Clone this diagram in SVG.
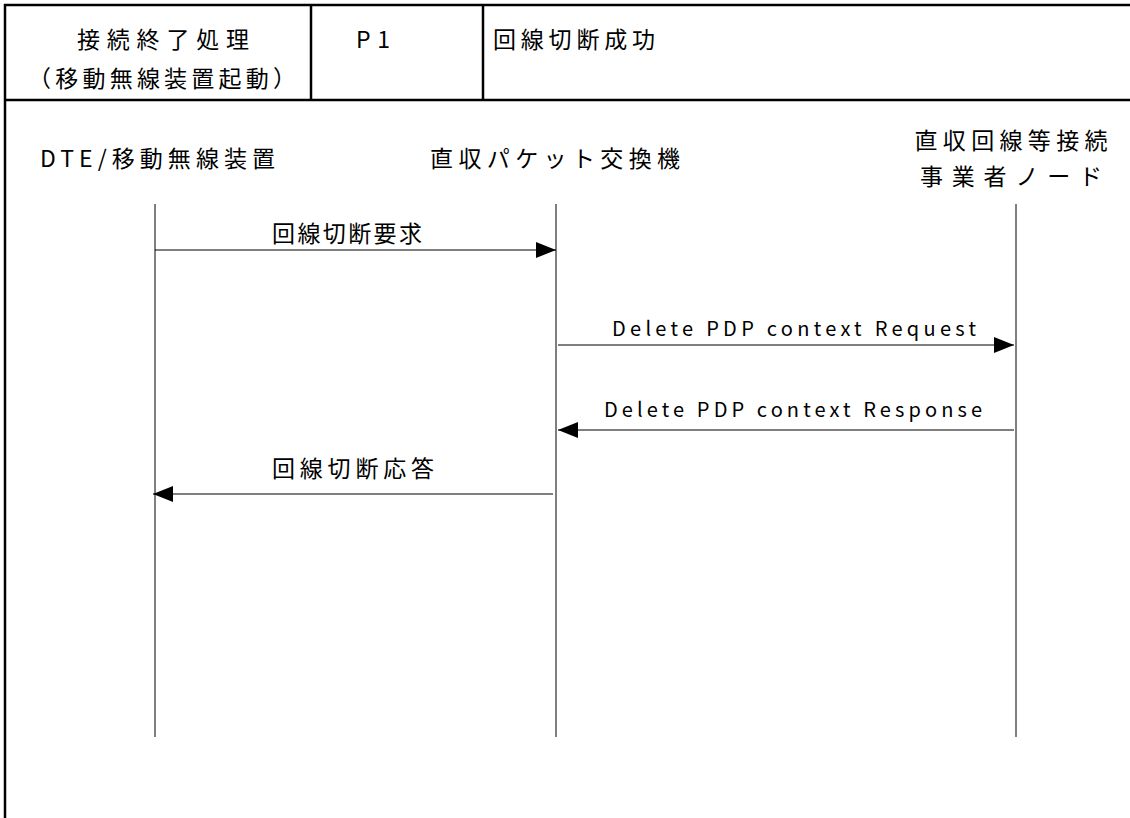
<svg xmlns="http://www.w3.org/2000/svg" width="1130" height="818" viewBox="0 0 1130 818">
<style>
text{font-family:"Noto Sans CJK JP","Noto Sans",sans-serif;font-size:23px;fill:#000}
.lat{font-size:20px}
.frame{stroke:#000;stroke-width:2.5;fill:none}
.life{stroke:#000;stroke-width:1}
.msg{stroke:#000;stroke-width:1.2}
</style>
<defs>
<marker id="ah" viewBox="0 0 20 16" refX="20" refY="8" markerWidth="20" markerHeight="16" markerUnits="userSpaceOnUse" orient="auto">
<path d="M0,0 L20,8 L0,16 Z" fill="#000"/>
</marker>
</defs>
<rect width="1130" height="818" fill="#fff"/>
<g id="frame">
<line class="frame" x1="4" y1="5" x2="1130" y2="5"/>
<line class="frame" x1="4" y1="100" x2="1130" y2="100"/>
<line class="frame" x1="5" y1="4" x2="5" y2="818"/>
<line class="frame" x1="311" y1="5" x2="311" y2="100"/>
<line class="frame" x1="483" y1="5" x2="483" y2="100"/>
<text x="163" y="48" text-anchor="middle" textLength="172" lengthAdjust="spacing">接続終了処理</text>
<text x="162" y="87" text-anchor="middle" textLength="268" lengthAdjust="spacing">（移動無線装置起動）</text>
<text x="373" y="48" text-anchor="middle" textLength="34" lengthAdjust="spacing">P 1</text>
<text x="493" y="48" textLength="162" lengthAdjust="spacing">回線切断成功</text>
</g>
<g id="node-dte">
<text x="40" y="167" textLength="235" lengthAdjust="spacing">DTE/移動無線装置</text>
</g>
<g id="node-switch">
<text x="430" y="167" textLength="250" lengthAdjust="spacing">直収パケット交換機</text>
</g>
<g id="node-carrier">
<text x="1011" y="149" text-anchor="middle" textLength="193" lengthAdjust="spacing">直収回線等接続</text>
<text x="1011" y="185" text-anchor="middle" textLength="182" lengthAdjust="spacing">事業者ノード</text>
</g>
<g id="connectors">
<line class="life" x1="155" y1="204" x2="155" y2="737"/>
<line class="life" x1="556" y1="204" x2="556" y2="737"/>
<line class="life" x1="1016" y1="204" x2="1016" y2="737"/>
<line class="msg" x1="155" y1="250" x2="556" y2="250" marker-end="url(#ah)"/>
<text x="272" y="242" textLength="150" lengthAdjust="spacing">回線切断要求</text>
<line class="msg" x1="558" y1="345" x2="1014" y2="345" marker-end="url(#ah)"/>
<text class="lat" x="612" y="336" textLength="364" lengthAdjust="spacing">Delete PDP context Request</text>
<line class="msg" x1="1014" y1="430" x2="558" y2="430" marker-end="url(#ah)"/>
<text class="lat" x="604" y="417" textLength="378" lengthAdjust="spacing">Delete PDP context Response</text>
<line class="msg" x1="553" y1="494" x2="153" y2="494" marker-end="url(#ah)"/>
<text x="272" y="477" textLength="162" lengthAdjust="spacing">回線切断応答</text>
</g>
</svg>
